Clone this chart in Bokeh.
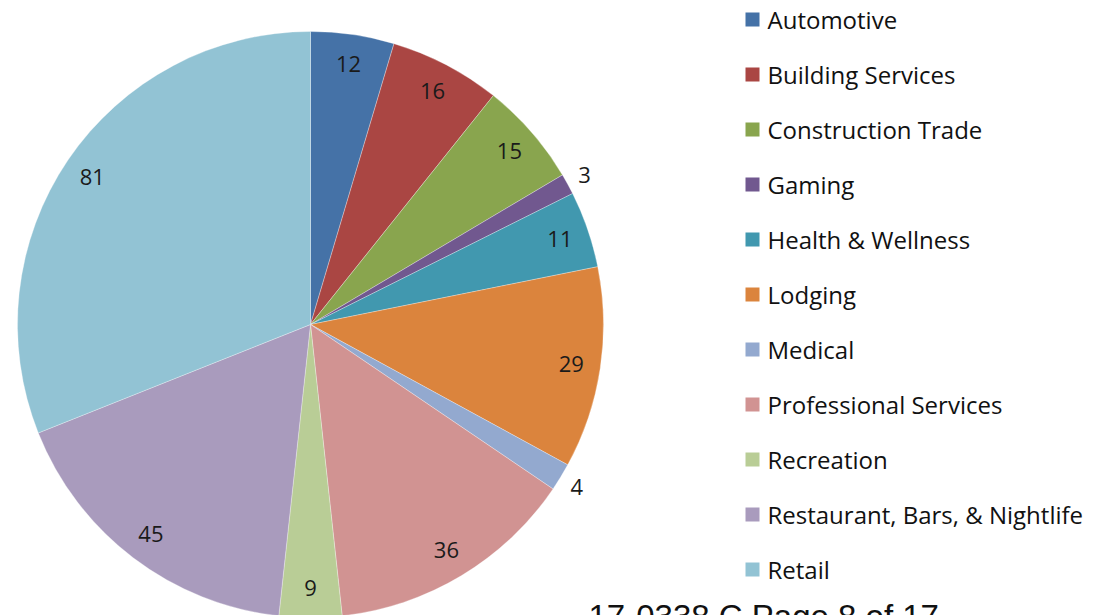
import numpy as np
from bokeh.plotting import figure
from bokeh.models import Range1d, ColumnDataSource
from bokeh.core.properties import value
from bokeh.embed import file_html
from bokeh.resources import INLINE

categories = ["Automotive", "Building Services", "Construction Trade", "Gaming",
              "Health & Wellness", "Lodging", "Medical", "Professional Services",
              "Recreation", "Restaurant, Bars, & Nightlife", "Retail"]
counts = [12, 16, 15, 3, 11, 29, 4, 36, 9, 45, 81]
colors = ["#4572A7", "#AA4643", "#89A54E", "#71588F", "#4198AF", "#DB843D",
          "#93A9CF", "#D19392", "#B9CD96", "#A99BBD", "#92C3D4"]
footer_text = "17-0338 C Page 8 of 17"

W, H = 1094, 615
CX, CY = 310, 324          # pie centre in figure pixels (from top-left)
R = 293                    # pie radius in pixels

p = figure(width=W, height=H, output_backend="svg", toolbar_location=None,
           x_range=Range1d(-CX, W - CX), y_range=Range1d(-(H - CY), CY),
           min_border=0, outline_line_color=None)
p.axis.visible = False
p.grid.visible = False
p.background_fill_color = "white"
p.border_fill_color = "white"

vals = np.array(counts, dtype=float)
total = vals.sum()
cum = np.concatenate([[0], np.cumsum(vals)])
start = np.pi / 2 - cum[:-1] / total * 2 * np.pi
end = np.pi / 2 - cum[1:] / total * 2 * np.pi
mid = (start + end) / 2

src = ColumnDataSource(dict(start=start, end=end, color=colors, cat=categories))
p.wedge(x=0, y=0, radius=R, radius_units="data", start_angle="start", end_angle="end",
        direction="clock", fill_color="color", line_color="white", line_width=0.6,
        line_alpha=0.5, source=src)

# data labels: inside for larger slices, outside for tiny ones
frac = vals / total
lab_r = np.where(frac < 0.02, 1.065 * R, 0.9 * R)
p.text(x=lab_r * np.cos(mid), y=lab_r * np.sin(mid), text=[str(c) for c in counts],
       text_align="center", text_baseline="middle", text_font=value("Open Sans"),
       text_font_size="22px", text_color="#1a1a1a")

# legend (drawn manually)
n = len(categories)
idx = np.arange(n)
leg_x = 752 - CX
leg_y = CY - (19 + idx * 55)
p.scatter(x=[leg_x] * n, y=leg_y, marker="square", size=14, fill_color=colors,
          line_color=None)
p.text(x=[leg_x + 15] * n, y=leg_y, text=categories, text_align="left",
       text_baseline="middle", text_font=value("Open Sans"), text_font_size="24px",
       text_color="#111111")

# footer text of the scanned page (cut off by the bottom edge)
p.text(x=[588 - CX], y=[CY - 597], text=[footer_text], text_align="left",
       text_baseline="top", text_font=value("Liberation Sans"),
       text_font_size="33px", text_color="#111111")

open("out.html", "w").write(file_html(p, INLINE))
